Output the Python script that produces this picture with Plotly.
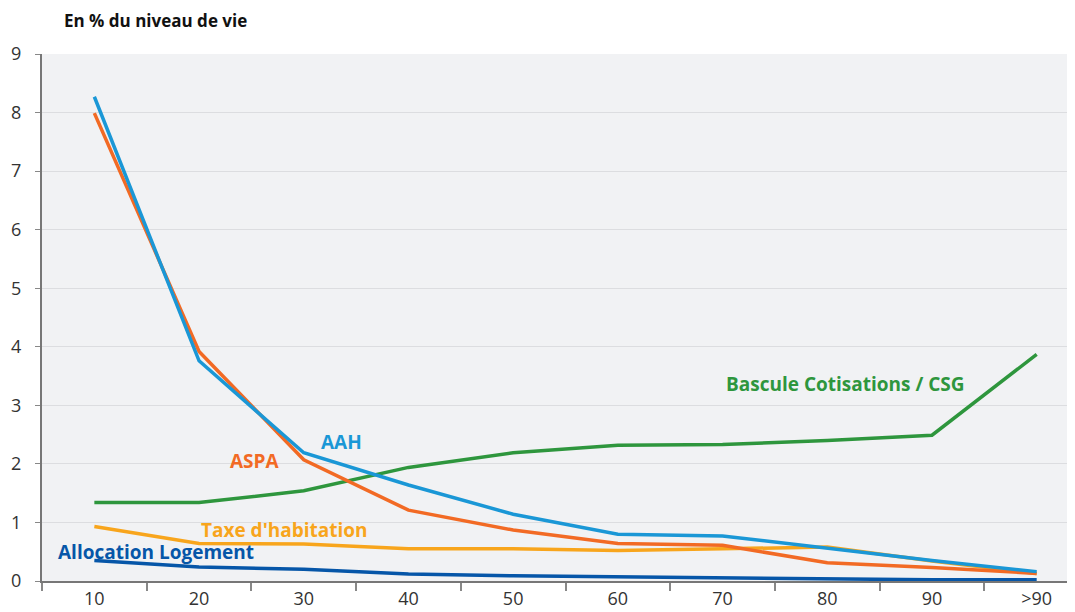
import plotly.graph_objects as go

categories = ["10", "20", "30", "40", "50", "60", "70", "80", "90", ">90"]
aah = [8.27, 3.76, 2.19, 1.64, 1.14, 0.80, 0.77, 0.56, 0.35, 0.16]
aspa = [7.99, 3.92, 2.07, 1.21, 0.87, 0.64, 0.61, 0.31, 0.23, 0.13]
bascule = [1.34, 1.34, 1.54, 1.94, 2.19, 2.32, 2.33, 2.40, 2.49, 3.87]
taxe = [0.93, 0.64, 0.63, 0.55, 0.55, 0.52, 0.55, 0.58, 0.34, 0.13]
alloc = [0.35, 0.24, 0.20, 0.12, 0.09, 0.07, 0.05, 0.03, 0.02, 0.02]

series = [
    ("Allocation Logement", alloc, "#0656a8"),
    ("Taxe d'habitation", taxe, "#f8a51c"),
    ("Bascule Cotisations / CSG", bascule, "#2e963d"),
    ("ASPA", aspa, "#f26a24"),
    ("AAH", aah, "#1a97d6"),
]

fig = go.Figure()
for name, vals, color in series:
    fig.add_trace(go.Scatter(x=categories, y=vals, mode="lines", name=name,
                             line=dict(color=color, width=3.5), showlegend=False,
                             cliponaxis=False))

label_font = "Open Sans, Lato, sans-serif"
labels = [
    ("Bascule Cotisations / CSG", 7.17, 3.37, "#2e963d"),
    ("AAH", 2.36, 2.37, "#1a97d6"),
    ("ASPA", 1.53, 2.05, "#f26a24"),
    ("Taxe d'habitation", 1.82, 0.87, "#f8a51c"),
    ("Allocation Logement", 0.59, 0.50, "#0656a8"),
]
for text, x, y, color in labels:
    fig.add_annotation(x=x, y=y, xref="x", yref="y", text="<b>%s</b>" % text,
                       showarrow=False, font=dict(size=19, color=color, family=label_font))

fig.add_annotation(x=(62 - 42) / 1033, y=1, xref="paper", yref="paper", yshift=34,
                   text="<b>En % du niveau de vie</b>", showarrow=False,
                   xanchor="left", yanchor="middle",
                   font=dict(size=17, color="#111111", family=label_font))

# page body has an 8px margin; size the figure so the plot area lands where the reference has it
fig.update_layout(
    width=1067, height=604,
    margin=dict(l=34, r=0, t=46, b=31),
    paper_bgcolor="white", plot_bgcolor="#f1f2f4",
    font=dict(family=label_font, color="#333333"),
)
fig.update_xaxes(
    type="category", range=[-0.5, 9.366],
    showline=True, linecolor="#777777", linewidth=2,
    ticks="outside", tickson="boundaries", ticklen=8, tickcolor="#888888", tickwidth=1.5,
    showgrid=False, tickfont=dict(size=18, color="#333333"),
)
fig.update_yaxes(
    range=[0, 9], dtick=1, tick0=0,
    showline=True, linecolor="#777777", linewidth=2,
    ticks="outside", ticklen=5, tickcolor="#888888", tickwidth=1,
    gridcolor="#dcdde0", gridwidth=1, zeroline=False,
    tickfont=dict(size=18, color="#333333"), ticklabelstandoff=10,
)

fig.write_html("out.html")
